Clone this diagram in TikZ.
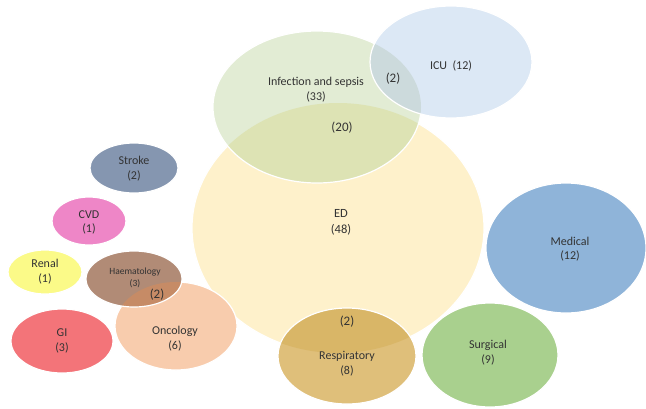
\documentclass[tikz,border=0pt]{standalone}
\usepackage{fontspec}
\setmainfont{Carlito}
\usetikzlibrary{shapes.geometric}
\definecolor{edc}{HTML}{FEF1CB}
\definecolor{infc}{HTML}{E2ECD4}
\definecolor{infedc}{HTML}{DDE3B4}
\definecolor{icuc}{HTML}{DCE8F5}
\definecolor{icuinfc}{HTML}{CCDADC}
\definecolor{strokec}{HTML}{8596B0}
\definecolor{cvdc}{HTML}{EE86C7}
\definecolor{renalc}{HTML}{FBFA88}
\definecolor{haemc}{HTML}{B18B76}
\definecolor{haemoncc}{HTML}{C68B66}
\definecolor{oncc}{HTML}{F8CCAD}
\definecolor{gic}{HTML}{F37479}
\definecolor{respc}{HTML}{DFBF7A}
\definecolor{respedc}{HTML}{D9B667}
\definecolor{medc}{HTML}{8FB4D9}
\definecolor{surgc}{HTML}{A9D08E}
\definecolor{txt}{HTML}{333333}
\tikzset{
  blob/.style={ellipse, inner sep=0pt},
  edge/.style={draw=white, line width=1.2pt},
  lbl/.style={text=txt, align=center, inner sep=0pt, font=\fontsize{12}{14.5}\selectfont},
  biglbl/.style={lbl, font=\fontsize{12.5}{15.5}\selectfont},
  numlbl/.style={text=txt, inner sep=0pt, font=\fontsize{13}{15}\selectfont},
}
\begin{document}
\begin{tikzpicture}[x=1pt,y=-1pt]
\useasboundingbox[fill=white] (0,0) rectangle (646,408);
% ED
\node[blob, fill=edc, edge, minimum width=292pt, minimum height=250pt] (ed) at (338,228) {};
% Infection and sepsis
\node[blob, fill=infc, minimum width=208pt, minimum height=152pt] (inf) at (317,107) {};
\begin{scope}
  \clip (338,228) ellipse [x radius=146pt, y radius=125pt];
  \fill[infedc] (317,107) ellipse [x radius=104pt, y radius=76pt];
\end{scope}
\draw[edge] (317,107) ellipse [x radius=104pt, y radius=76pt];
% ICU
\node[blob, fill=icuc, minimum width=162pt, minimum height=112pt] (icu) at (451,62) {};
\begin{scope}
  \clip (317,107) ellipse [x radius=104pt, y radius=76pt];
  \fill[icuinfc] (451,62) ellipse [x radius=81pt, y radius=56pt];
\end{scope}
\draw[edge] (451,62) ellipse [x radius=81pt, y radius=56pt];
% Respiratory
\node[blob, fill=respc, minimum width=138pt, minimum height=96pt] (resp) at (347,356) {};
\begin{scope}
  \clip (338,228) ellipse [x radius=146pt, y radius=125pt];
  \fill[respedc] (347,356) ellipse [x radius=69pt, y radius=48pt];
\end{scope}
\draw[edge] (347,356) ellipse [x radius=69pt, y radius=48pt];
% Medical, Surgical
\node[blob, fill=medc, edge, minimum width=160pt, minimum height=130pt] (med) at (566,248) {};
\node[blob, fill=surgc, edge, minimum width=136pt, minimum height=104pt] (surg) at (490,355) {};
% small ones
\node[blob, fill=strokec, edge, minimum width=88pt, minimum height=50pt] (stroke) at (134,168) {};
\node[blob, fill=cvdc, edge, minimum width=74pt, minimum height=48pt] (cvd) at (89,221) {};
\node[blob, fill=renalc, edge, minimum width=74pt, minimum height=44pt] (renal) at (45,272) {};
\node[blob, fill=gic, edge, minimum width=102pt, minimum height=64pt] (gi) at (62,341) {};
\node[blob, fill=oncc, edge, minimum width=122pt, minimum height=88pt] (onc) at (176,326) {};
\node[blob, fill=haemc, minimum width=96pt, minimum height=56pt] (haem) at (134,279) {};
\begin{scope}
  \clip (176,326) ellipse [x radius=61pt, y radius=44pt];
  \fill[haemoncc] (134,279) ellipse [x radius=48pt, y radius=28pt];
\end{scope}
\draw[edge] (134,279) ellipse [x radius=48pt, y radius=28pt];
% labels
\node[lbl] (tinf) at (316,89.5) {Infection and sepsis\\(33)};
\node[numlbl] (tinficu) at (393,79) {(2)};
\node[numlbl] (tinfed) at (342,128) {(20)};
\node[lbl] (ticu) at (451,66) {ICU\ \ (12)};
\node[biglbl] (ted) at (341,222.5) {ED\\(48)};
\node[lbl] (tstroke) at (134,168.5) {Stroke\\(2)};
\node[lbl] (tcvd) at (89,222.5) {CVD\\(1)};
\node[lbl] (trenal) at (45,271.5) {Renal\\(1)};
\node[lbl, font=\fontsize{9.5}{12.5}\selectfont] (thaem) at (135,278) {Haematology\\(3)};
\node[numlbl] (thaemonc) at (157,295) {(2)};
\node[lbl] (tonc) at (175,338.5) {Oncology\\(6)};
\node[lbl] (tgi) at (62,341) {GI\\(3)};
\node[numlbl] (trespED) at (347,322) {(2)};
\node[lbl] (tresp) at (347,363.5) {Respiratory\\(8)};
\node[lbl] (tmed) at (570,249) {Medical\\(12)};
\node[lbl] (tsurg) at (488,352.5) {Surgical\\(9)};
\end{tikzpicture}
\end{document}
